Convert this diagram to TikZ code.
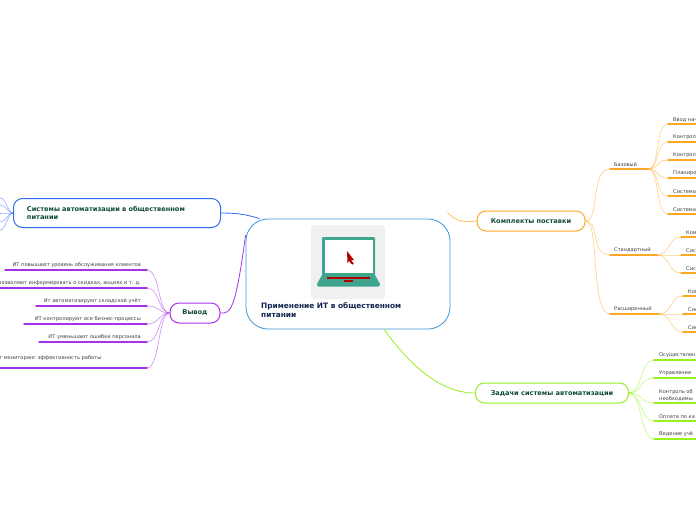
\documentclass[tikz,border=0pt]{standalone}
\usepackage{fontspec}
\setmainfont{DejaVu Sans}
\usetikzlibrary{positioning}
\definecolor{inkdark}{HTML}{0F4A3C}
\definecolor{inknavy}{HTML}{10234F}
\definecolor{rootline}{HTML}{3A97DC}
\definecolor{bluelink}{HTML}{2F6BF2}
\definecolor{orangelink}{HTML}{FFA726}
\definecolor{greenlink}{HTML}{97F01F}
\definecolor{purplelink}{HTML}{A832EA}
\definecolor{laptopgreen}{HTML}{3FA58F}
\tikzset{
  topic/.style={draw,line width=1pt,rounded corners=9pt,fill=white,minimum height=20pt,font=\bfseries\fontsize{6.6}{8}\selectfont,text=inkdark,inner sep=0pt},
  leaftext/.style={font=\fontsize{5.1}{6.4}\selectfont,text=black!75,inner sep=0pt,align=left},
  underline/.style={line width=1.5pt,line cap=round},
  branch/.style={line width=.6pt,opacity=.55}
}
\begin{document}
\begin{tikzpicture}[x=1pt,y=-1pt]
\useasboundingbox (0,0) rectangle (696,520);
% Central topic
\node[draw=rootline,line width=.8pt,fill=white,rounded corners=22pt,minimum width=204pt,minimum height=110pt,inner sep=0pt] (root) at (348,274) {};

% Topics
\node[topic,draw=bluelink,minimum width=207pt,minimum height=29pt,text width=180pt,align=left] (systems) at (117,213) {Системы автоматизации в общественном\\питании};
\node[topic,draw=purplelink,minimum width=50pt] (result) at (195,313) {Вывод};
\node[topic,draw=orangelink,minimum width=108pt] (kits) at (531,221) {Комплекты поставки};
\node[topic,draw=greenlink,minimum width=153pt] (tasks) at (552,393) {Задачи системы автоматизации};

% Links from the central topic
\draw[bluelink,line width=.8pt] ([xshift=14pt]root.north west) .. controls (245,214) and (235,213) .. (systems.east);
\draw[purplelink,line width=.8pt] ([yshift=39pt]root.west) .. controls (235,314) and (230,313) .. (result.east);
\draw[orangelink!70,line width=.8pt] ([xshift=-3pt,yshift=6pt]root.north east) .. controls (458,223) and (465,222) .. (kits.west);
\draw[greenlink,line width=.8pt] ([xshift=36pt]root.south) .. controls (410,365) and (440,393) .. (tasks.west);

% Blue stubs
\foreach \y in {198,205,213,222,230}
  \draw[bluelink,branch] (systems.west) .. controls (8,213) and (6,\y) .. (0,\y);

% Left leaves
\foreach \n/\x/\y/\txt in {
  1/5/270/{ИТ повышают уровень обслуживания клиентов},
  2/-9/288/{ИТ позволяют информировать о скидках, акциях и т. д.},
  3/36/306/{Ит автоматизируют складской учёт},
  4/24/324/{ИТ контролируют все бизнес-процессы},
  5/39/342/{ИТ уменьшают ошибки персонала}}
{
  \node[leaftext,anchor=south east] (left\n) at (141,\y-2) {\txt};
  \coordinate (leftend\n) at (147,\y);
  \draw[purplelink,underline] (\x,\y) -- (leftend\n);
  \draw[purplelink,branch] (result.west) .. controls (158,313) and (160,\y) .. (leftend\n);
}
\node[leaftext,anchor=south west] (left6) at (-4,366) {ят мониторинг эффективность работы\\е};
\coordinate (leftend6) at (147,368);
\draw[purplelink,underline] (0,368) -- (leftend6);
\draw[purplelink,branch] (result.west) .. controls (158,313) and (160,368) .. (leftend6);

% Package levels
\foreach \n/\x/\xe/\y/\txt in {
  base/610/648/169/Базовый,
  standard/610/657/255/Стандартный,
  extended/610/659/314/Расширенный}
{
  \node[leaftext,anchor=south west] (\n) at (\x+4,\y-2) {\txt};
  \coordinate (\n-end) at (\x,\y);
  \coordinate (\n-hub) at (\xe,\y);
  \draw[orangelink,underline] (\n-end) -- (\n-hub);
  \draw[orangelink,branch] (kits.east) .. controls (600,221) and (590,\y) .. (\n-end);
}
\foreach \y/\txt in {124/Ввод нач,142/Контрол,160/Контрол,178/Планиро,196/Система,214/Система}
{
  \node[leaftext,anchor=south west] at (673,\y-2) {\txt};
  \coordinate (basel) at (668,\y);
  \draw[orangelink,underline] (basel) -- (696,\y);
  \draw[orangelink,branch] (base-hub) .. controls (660,169) and (655,\y) .. (basel);
}
\foreach \y/\txt in {237/Ком,255/Сис,273/Сис}
{
  \node[leaftext,anchor=south west] at (686,\y-2) {\txt};
  \coordinate (standardl) at (681,\y);
  \draw[orangelink,underline] (standardl) -- (696,\y);
  \draw[orangelink,branch] (standard-hub) .. controls (670,255) and (668,\y) .. (standardl);
}
\foreach \y/\txt in {296/Ком,314/Сис,332/Сис}
{
  \node[leaftext,anchor=south west] at (688,\y-2) {\txt};
  \coordinate (extendedl) at (683,\y);
  \draw[orangelink,underline] (extendedl) -- (696,\y);
  \draw[orangelink,branch] (extended-hub) .. controls (672,314) and (670,\y) .. (extendedl);
}

% Task leaves
\foreach \y/\txt in {360/Осуществлен,378/Управление,421/Оплата по ка,439/Ведение учё}
{
  \node[leaftext,anchor=south west] at (659,\y-2) {\txt};
  \coordinate (taskl) at (654,\y);
  \draw[greenlink,underline] (taskl) -- (696,\y);
  \draw[greenlink,branch] (tasks.east) .. controls (642,393) and (640,\y) .. (taskl);
}
\node[leaftext,anchor=south west] (taskmid) at (659,401) {Контроль об\\необходимы};
\coordinate (taskl) at (654,403);
\draw[greenlink,underline] (taskl) -- (696,403);
\draw[greenlink,branch] (tasks.east) .. controls (642,393) and (640,403) .. (taskl);

% Laptop icon
\fill[black!6,rounded corners=3pt] (311,225) rectangle (385,299);
\fill[laptopgreen,rounded corners=1pt] (322,237) rectangle (375,275);
\fill[white] (324.5,240) rectangle (372.5,272.5);
\fill[laptopgreen] (322,275) -- (375,275) -- (380,284) -- (317,284) -- cycle;
\fill[laptopgreen,rounded corners=1.5pt] (317,283) rectangle (380,286.5);
\fill[red!70!black] (327,277) rectangle (370,278.5);
\fill[red!70!black] (344,280) rectangle (353,281.5);
\fill[red!70!black] (347,251) -- (354,260) -- (351,260) -- (354,264) -- (352,264.5) -- (349,261) -- (347.5,263) -- cycle;

\node[font=\bfseries\fontsize{7.4}{9.8}\selectfont,text=inknavy,anchor=north west,align=left,inner sep=0pt] (title) at (261,302) {Применение ИТ в общественном\\питании};
\end{tikzpicture}
\end{document}
